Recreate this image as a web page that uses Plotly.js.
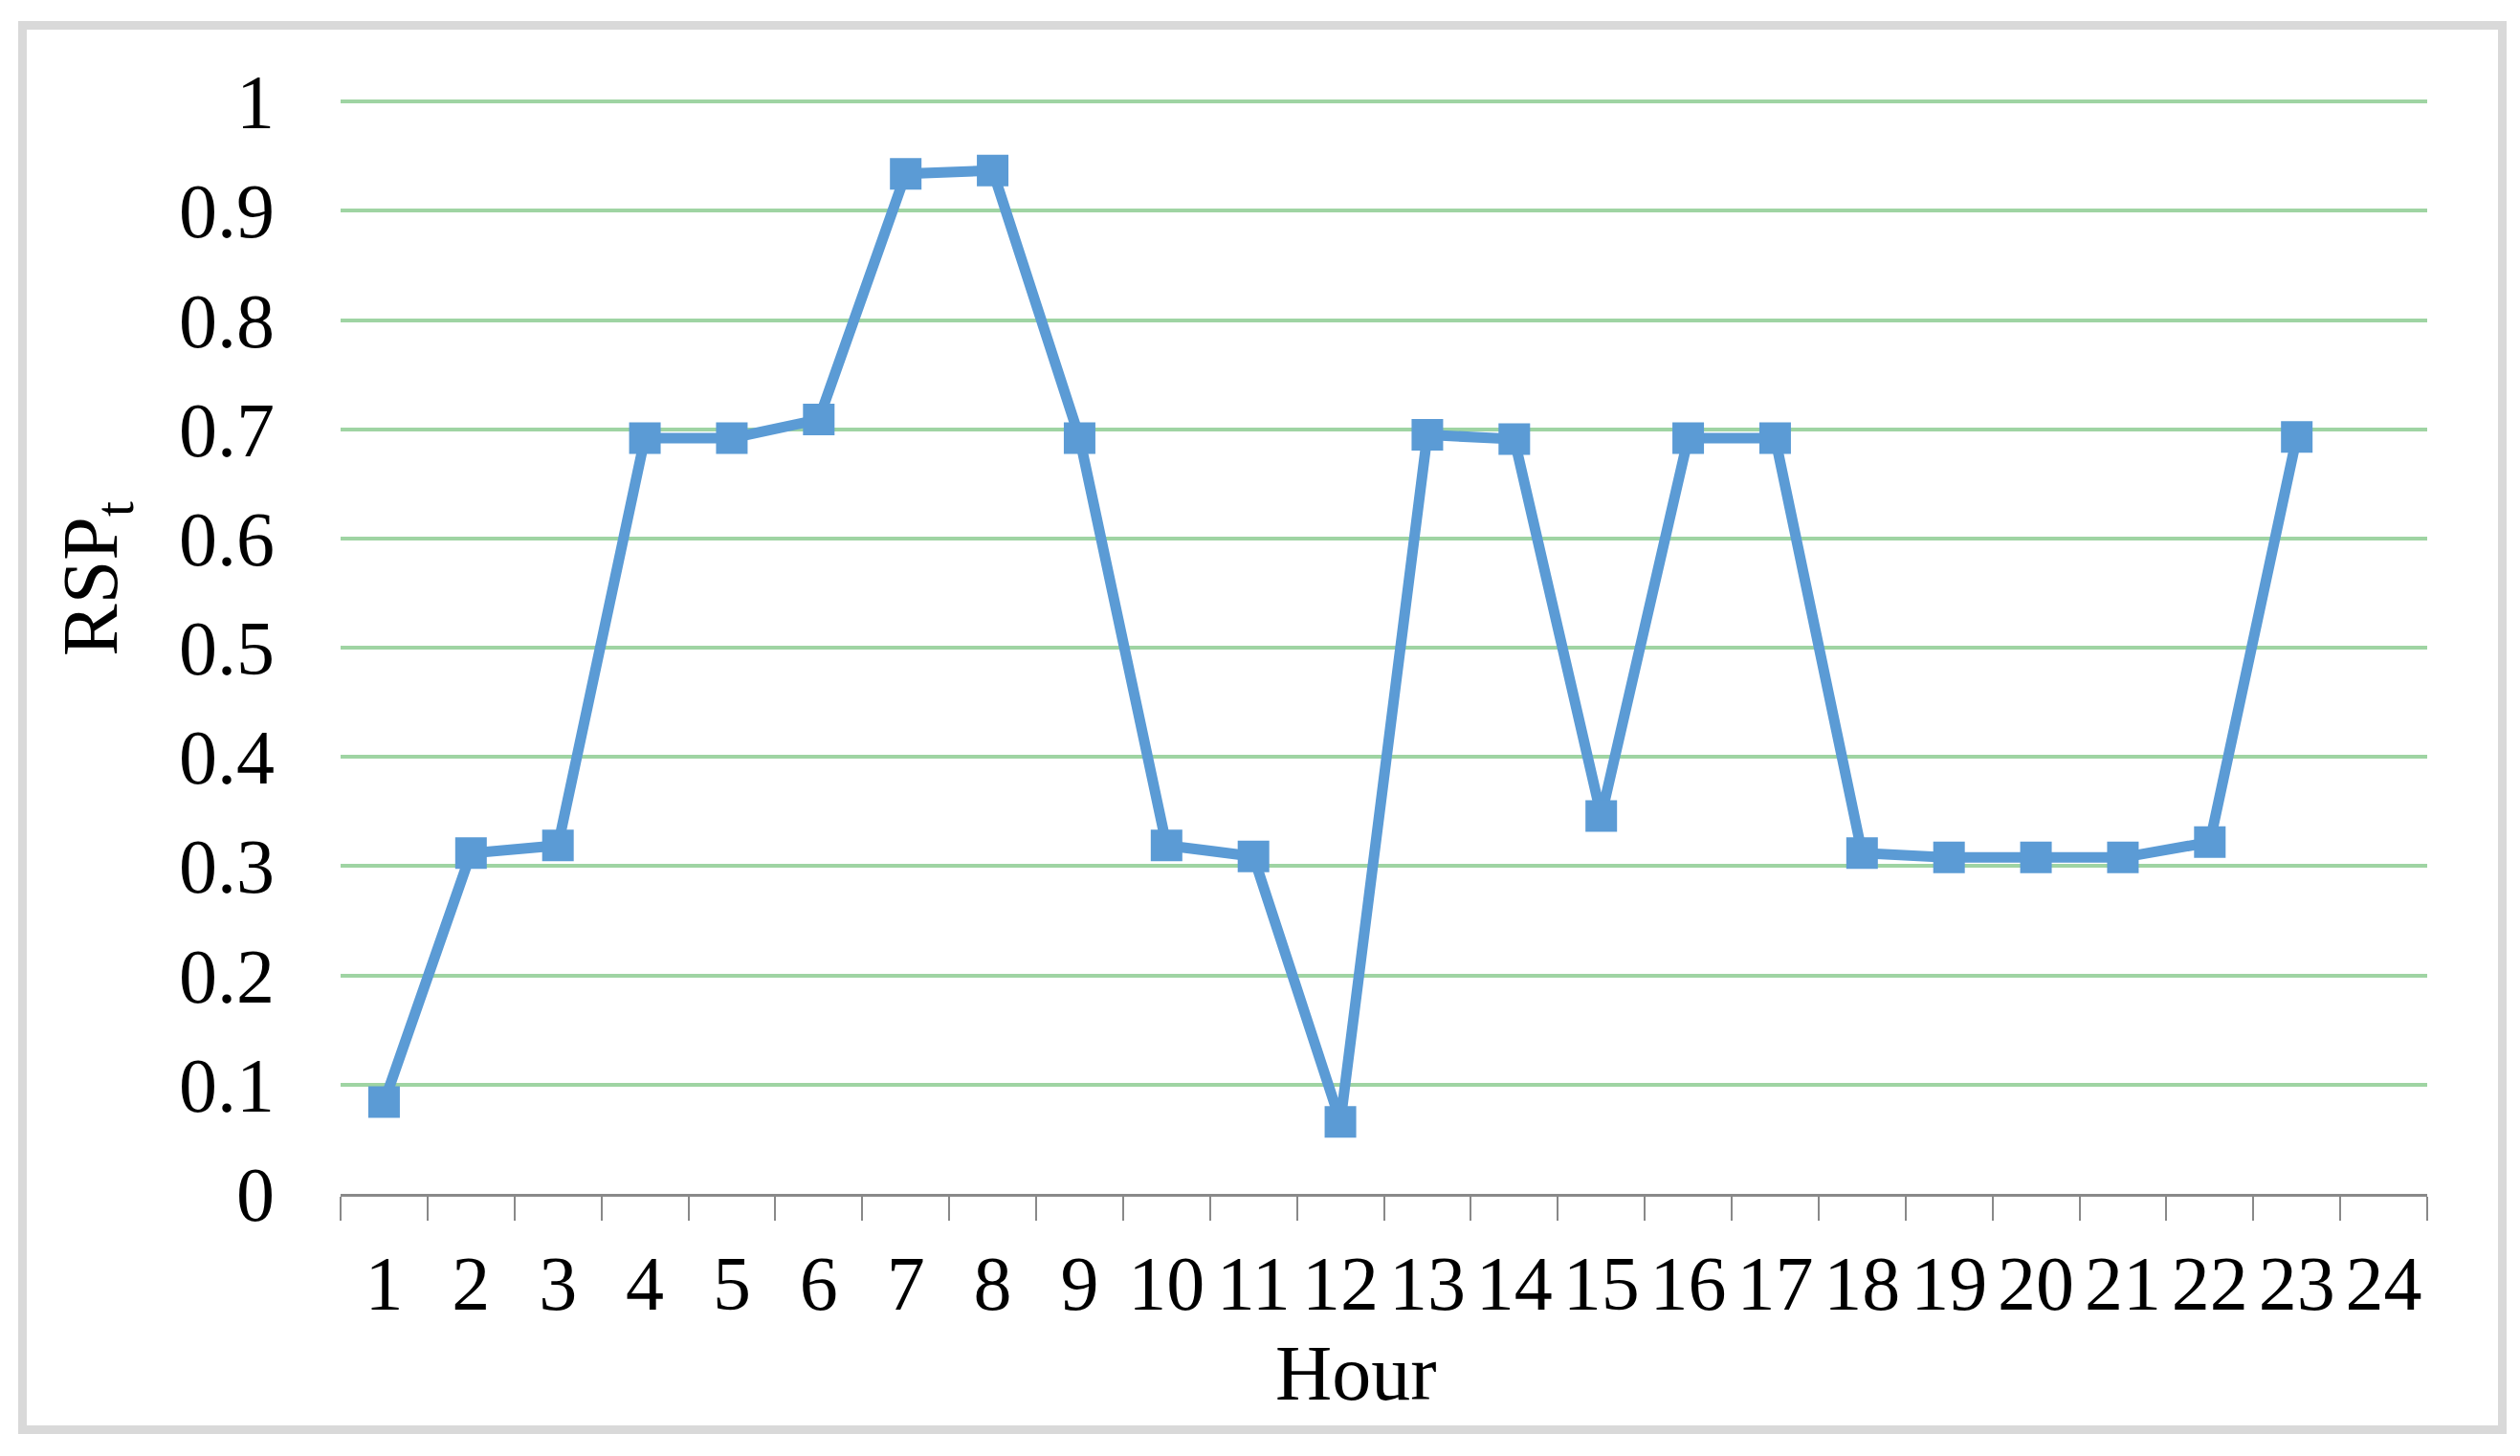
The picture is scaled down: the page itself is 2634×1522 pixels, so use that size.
<!DOCTYPE html>
<html>
<head>
<meta charset="utf-8">
<script src="https://cdn.plot.ly/plotly-3.0.1.min.js"></script>
<style>
  body { margin: 0; background: #fff; }
  #chart { position: absolute; left: 0; top: 0; width: 2634px; height: 1522px; }
  #frame { position: absolute; left: 19px; top: 22px; width: 2601px; height: 1477px;
           box-sizing: border-box; border: 9px solid #d9d9d9; pointer-events: none; }
</style>
</head>
<body>
<div id="chart"></div>
<div id="frame"></div>
<script>
// hours on the x axis (24 has no value)
var hours = ['1','2','3','4','5','6','7','8','9','10','11','12',
             '13','14','15','16','17','18','19','20','21','22','23','24'];
// RSP_t
var rsp = [0.084, 0.312, 0.319, 0.692, 0.692, 0.709, 0.934, 0.937, 0.692, 0.319, 0.309, 0.066,
           0.695, 0.691, 0.346, 0.692, 0.692, 0.312, 0.308, 0.308, 0.308, 0.322, 0.693, null];

var W = 2634, H = 1522;
var plotL = 356, plotR = 2537, plotT = 104, plotB = 1248;
var fontFam = '"Liberation Serif", "Times New Roman", serif';
var blue = '#5b9bd5';

// pixel -> paper helpers, for the titles
function px(x){ return (x - plotL) / (plotR - plotL); }
function py(y){ return (plotB - y) / (plotB - plotT); }

var data = [{
    x: hours,
    y: rsp,
    type: 'scatter',
    mode: 'lines+markers',
    line: {color: blue, width: 11},
    marker: {symbol: 'square', size: 33, color: blue},
    cliponaxis: false,
    showlegend: false
}];

var layout = {
    width: W, height: H,
    margin: {l: plotL, r: W - plotR, t: plotT, b: H - plotB, pad: 0},
    paper_bgcolor: '#fff',
    plot_bgcolor: '#fff',
    font: {family: fontFam, color: '#000', size: 82},
    xaxis: {
        type: 'category',
        range: [-0.5, hours.length - 0.5],
        tickmode: 'linear', tick0: 0, dtick: 1,
        showline: true, linecolor: '#898989', linewidth: 3,
        ticks: 'outside', tickson: 'boundaries', ticklen: 25, tickwidth: 2, tickcolor: '#898989',
        tickangle: 0,
        tickfont: {family: fontFam, size: 80, color: '#000'},
        ticklabelstandoff: 22,
        showgrid: false, zeroline: false,
        automargin: false
    },
    yaxis: {
        range: [0, 1.002], dtick: 0.1, tick0: 0,
        showline: false, zeroline: false,
        showgrid: true, gridcolor: '#9fd4a3', gridwidth: 4,
        ticks: '',
        tickfont: {family: fontFam, size: 80, color: '#000'},
        ticklabelstandoff: 68,
        automargin: false
    },
    annotations: [{
        text: 'RSP<sub>t</sub>',
        xref: 'paper', yref: 'paper',
        x: px(100), y: py(605),
        xanchor: 'center', yanchor: 'middle',
        textangle: -90, showarrow: false,
        font: {family: fontFam, size: 82, color: '#000'}
    }, {
        text: 'Hour',
        xref: 'paper', yref: 'paper',
        x: px(1417), y: py(1435),
        xanchor: 'center', yanchor: 'middle',
        showarrow: false,
        font: {family: fontFam, size: 82, color: '#000'}
    }]
};

Plotly.newPlot('chart', data, layout, {displayModeBar: false, staticPlot: true});
</script>
</body>
</html>
